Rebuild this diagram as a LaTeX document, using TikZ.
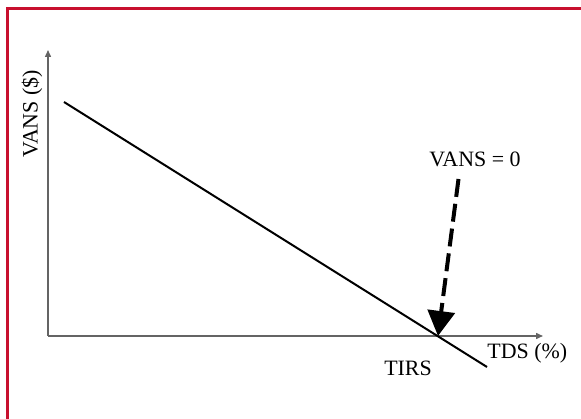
\documentclass[tikz,border=0pt]{standalone}
\usepackage{fontspec}
\setmainfont{Liberation Serif}
\usetikzlibrary{arrows.meta}
\usetikzlibrary{positioning}
\definecolor{framered}{RGB}{200,16,46}
\definecolor{axisgray}{RGB}{100,100,100}

\begin{document}
\begin{tikzpicture}[
    x=0.5bp, y=-0.5bp,
    >={Triangle[width=3bp, length=3.5bp]},
    frame/.style = {
        draw=framered,
        line width=1.5bp
      },
    axis/.style = {
        draw=axisgray,
        line width=0.7bp,
        ->
      },
    curve/.style = {
        draw=black,
        line width=1bp
      },
    pointer/.style = {
        draw=black,
        line width=2bp,
        dash pattern=on 9bp off 3.5bp,
        -{Triangle[width=13.5bp, length=12.5bp]}
      },
    lbl/.style = {
        font=\fontsize{11}{13}\selectfont,
        inner sep=0pt
      },
    ]
    \useasboundingbox (0,0) rectangle (581,419);
    \draw [frame] (7.5,419) |- (581,9);

    \coordinate (origin) at (48,336);
    \coordinate (ytip) at (48,50);
    \coordinate (xtip) at (543,336);
    \coordinate (high) at (64,102);
    \coordinate (low) at (487,367);
    \coordinate (root) at (438,336);
    \coordinate (dash top) at (458.5,179);

    \node (vans) [lbl] at (475,159) {VANS = 0};
    \node (tds) [lbl, anchor=west] at (487,353) {TDS (\%)};
    \node (tirs) [lbl] at (408,368) {TIRS};
    \node (yname) [lbl, rotate=90] at (32,114) {VANS (\$)};

    \draw [axis] (origin) -- (ytip);
    \draw [axis] (origin) -- (xtip);
    \draw [curve] (high) -- (low);
    \draw [pointer] (dash top) -- (root);
  \end{tikzpicture}
\end{document}
